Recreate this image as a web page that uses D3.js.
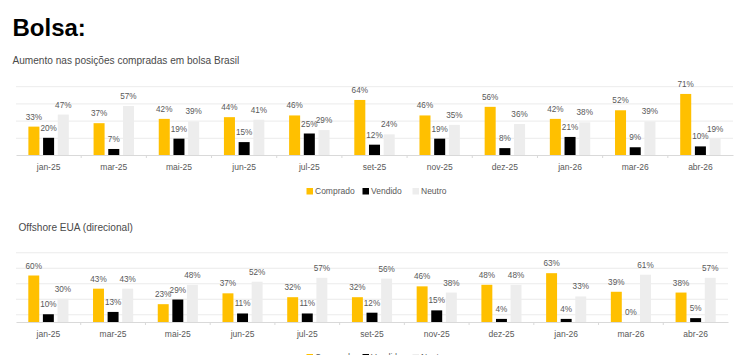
<!DOCTYPE html>
<html>
<head>
<meta charset="utf-8">
<script src="https://cdn.jsdelivr.net/npm/d3@7"></script>
<style>
  html, body { margin: 0; padding: 0; background: #fff; }
  svg { display: block; font-family: "Liberation Sans", Arial, sans-serif; }
</style>
</head>
<body>
<svg id="chart" width="744" height="355"></svg>
<script>
// ---- DATA ----
const categories = ["jan-25","mar-25","mai-25","jun-25","jul-25","set-25","nov-25","dez-25","jan-26","mar-26","abr-26"];
const seriesNames = ["Comprado","Vendido","Neutro"];
const seriesColors = ["#FFC000","#000000","#EDEDED"];

const bolsaComprado = [33,37,42,44,46,64,46,56,42,52,71];
const bolsaVendido  = [20,7,19,15,25,12,19,8,21,9,10];
const bolsaNeutro   = [47,57,39,41,29,24,35,36,38,39,19];

const offComprado = [60,43,23,37,32,32,46,48,63,39,38];
const offVendido  = [10,13,29,11,11,12,15,4,4,0,5];
const offNeutro   = [30,43,48,52,57,56,38,48,33,61,57];

const bolsaGrid = [20,40,60,80];
const offGrid = [10,30,50,70,90];

// ---- DRAW ----
const svg = d3.select("#chart");

svg.append("text").attr("x", 12.5).attr("y", 36)
  .attr("font-size", 24).attr("font-weight", "bold").attr("fill", "#000")
  .text("Bolsa:");

svg.append("text").attr("x", 12.5).attr("y", 64)
  .attr("font-size", 10.1).attr("fill", "#4a4a4a")
  .text("Aumento nas posições compradas em bolsa Brasil");

svg.append("text").attr("x", 18.5).attr("y", 231)
  .attr("font-size", 10.1).attr("fill", "#4a4a4a")
  .text("Offshore EUA (direcional)");

function panel(opts) {
  const g = svg.append("g");
  const data = [opts.c, opts.v, opts.n];
  const x0 = d3.scaleBand().domain(categories).range([opts.left, opts.right])
    .paddingInner(0.38).paddingOuter(0.19);
  const x1 = d3.scaleBand().domain(seriesNames).range([0, x0.bandwidth()])
    .paddingInner(0.25).paddingOuter(0);
  const y = d3.scaleLinear().domain([0, opts.max]).range([opts.base, opts.base - opts.max * opts.pxPer]);

  // gridlines
  g.append("g").selectAll("line").data(opts.grid).join("line")
    .attr("x1", opts.left).attr("x2", opts.right)
    .attr("y1", d => y(d) + 0.5).attr("y2", d => y(d) + 0.5)
    .attr("stroke", "#E6E6E6").attr("stroke-width", 0.8);

  // bars
  seriesNames.forEach((s, si) => {
    g.append("g").selectAll("rect").data(categories).join("rect")
      .attr("x", d => x0(d) + x1(s))
      .attr("width", x1.bandwidth())
      .attr("y", (d, i) => y(data[si][i]))
      .attr("height", (d, i) => y(0) - y(data[si][i]))
      .attr("fill", seriesColors[si]);
    g.append("g").selectAll("text").data(categories).join("text")
      .attr("x", d => x0(d) + x1(s) + x1.bandwidth() / 2)
      .attr("y", (d, i) => y(data[si][i]) - 7)
      .attr("text-anchor", "middle")
      .attr("font-size", 8.2).attr("fill", "#595959")
      .text((d, i) => data[si][i] + "%");
  });

  // x axis
  const axis = d3.axisBottom(x0).tickSize(0).tickPadding(9);
  const ag = g.append("g").attr("transform", `translate(0,${opts.base})`).call(axis);
  ag.select(".domain").attr("stroke", "#D9D9D9");
  ag.selectAll("text").attr("font-size", 8.5).attr("fill", "#595959")
    .attr("font-family", "Liberation Sans, Arial, sans-serif");
  // tick marks at band boundaries
  const bounds = categories.slice(1).map(c => x0(c) - x0.step() * x0.paddingInner() / 2);
  ag.append("g").selectAll("line").data(bounds).join("line")
    .attr("x1", d => d).attr("x2", d => d).attr("y1", 0).attr("y2", 3)
    .attr("stroke", "#D9D9D9");

  // legend
  const lg = g.append("g").attr("transform", `translate(0,${opts.legendY})`);
  const lx = [306.5, 362.5, 412.5];
  seriesNames.forEach((s, si) => {
    lg.append("rect").attr("x", lx[si]).attr("y", -3).attr("width", 6.5).attr("height", 6.5)
      .attr("fill", seriesColors[si]);
    lg.append("text").attr("x", lx[si] + 8.5).attr("y", 3.2)
      .attr("font-size", 8.5).attr("fill", "#595959").text(s);
  });
}

panel({ c: bolsaComprado, v: bolsaVendido, n: bolsaNeutro, left: 16, right: 733,
        base: 155, max: 80, pxPer: 0.86, grid: bolsaGrid, legendY: 191 });
panel({ c: offComprado, v: offVendido, n: offNeutro, left: 16, right: 728,
        base: 322, max: 90, pxPer: 0.775, grid: offGrid, legendY: 357 });
</script>
</body>
</html>
